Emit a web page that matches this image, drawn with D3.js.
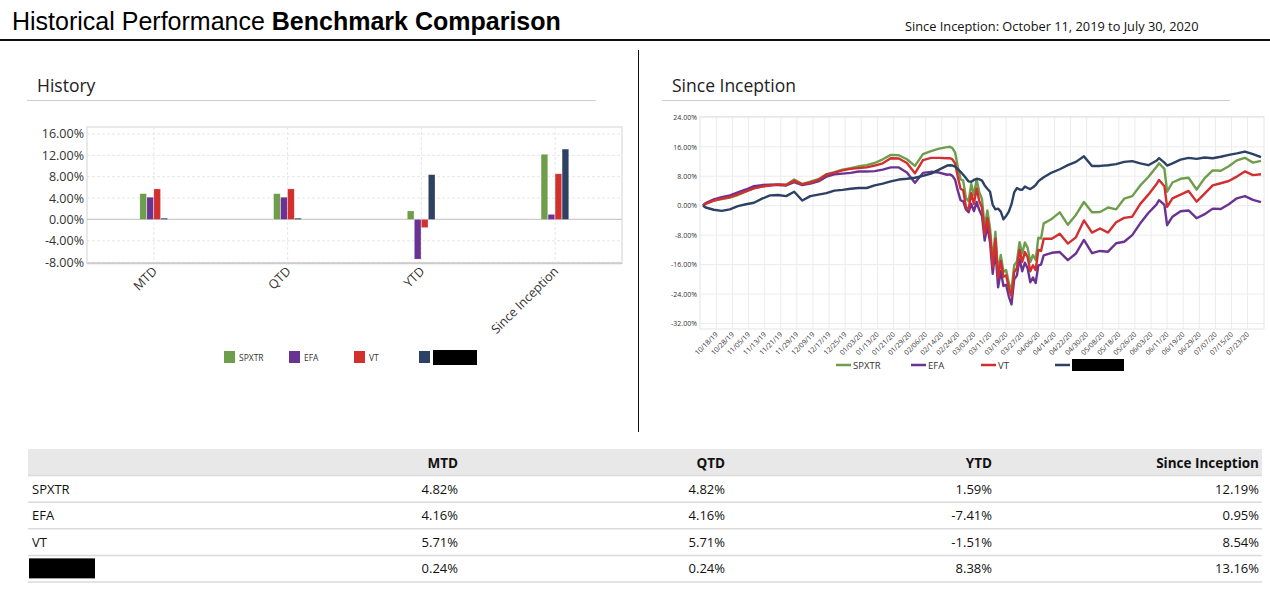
<!DOCTYPE html>
<html>
<head>
<meta charset="utf-8">
<title>Historical Performance Benchmark Comparison</title>
<script src="https://cdn.jsdelivr.net/npm/d3@7"></script>
<style>
  html, body { margin: 0; padding: 0; background: #fff; }
  svg { display: block; }
  text { font-family: "Open Sans", "Noto Sans", sans-serif; fill: #222; }
</style>
</head>
<body>
<svg id="page" width="1270" height="591"></svg>
<script>
// ---- data ----
const periods = ["MTD", "QTD", "YTD", "Since Inception"];
const seriesNames = ["SPXTR", "EFA", "VT", null]; // last name is redacted in the source
const seriesColors = ["#6e9d4b", "#6b3391", "#d22f2f", "#2c4163"];

const spxtrPeriod = [4.82, 4.82, 1.59, 12.19];
const efaPeriod = [4.16, 4.16, -7.41, 0.95];
const vtPeriod = [5.71, 5.71, -1.51, 8.54];
const portPeriod = [0.24, 0.24, 8.38, 13.16];

const barTicks = [-8, -4, 0, 4, 8, 12, 16];
const lineTicks = [-32, -24, -16, -8, 0, 8, 16, 24];

// trading day since 10/11/19 (0) .. 07/30/20 (208)
const tradingDay = [
  0, 1, 4, 7, 10, 13, 16, 19, 22, 25, 28, 31, 34, 37, 40, 43, 46, 49, 52, 55, 58, 61, 64, 67, 70, 73, 76, 79, 82, 85, 88, 91,
  92, 93, 94, 95, 96, 97, 98, 99, 100, 101, 102, 103, 104, 105, 106, 107, 108, 109, 110, 111, 112, 113, 114, 115, 116, 117, 118, 119, 120, 121, 122, 123, 124, 125, 126,
  127, 130, 133, 136, 139, 142, 145, 148, 151, 154, 157, 160, 163, 166, 169, 170, 172, 173, 175, 178, 181, 184, 187, 190, 193, 196, 199, 202, 205, 208
];
const spxtrLine = [
  0, 0.6, 1.4, 1.8, 2.2, 2.9, 3.9, 4.8, 5.2, 5.6, 5.8, 5.7, 7.1, 5.9, 6.5, 7.2, 8.5, 9.1, 9.8, 10.2, 10.7, 11.0, 11.6, 12.6, 13.8, 13.7, 12.6, 10.8, 14.0, 14.8, 15.5, 15.9,
  16.0, 15.6, 14.4, 10.5, 7.2, 6.8, 2.1, 1.2, 5.9, 2.9, 7.2, 3.6, 1.8, -5.9, -1.3, -6.1, -15.0, -7.1, -18.3, -13.4, -17.9, -17.5, -21.0, -23.0, -16.2, -15.2, -9.9, -13.0, -10.0, -11.4, -15.3, -13.4, -14.7, -8.7, -8.9,
  -4.8, -3.6, -1.8, -5.2, -2.5, 1.0, -1.8, -1.7, -0.5, -1.0, 1.9, 2.6, 5.5, 7.8, 10.5, 11.5, 10.0, 3.8, 6.3, 7.3, 7.6, 4.4, 7.5, 9.6, 9.5, 10.7, 12.3, 13.0, 11.7, 12.19
];
const efaLine = [
  0, 0.7, 1.7, 2.3, 2.8, 3.6, 4.4, 5.3, 5.6, 5.7, 5.6, 5.5, 6.4, 5.6, 6.0, 6.6, 7.9, 8.5, 8.7, 8.9, 9.3, 9.3, 9.4, 9.8, 10.4, 10.4, 9.0, 6.2, 8.9, 9.2, 9.0, 8.4,
  8.5, 8.1, 7.0, 4.0, 1.5, 1.2, -1.0, -1.8, 0.5, -1.5, 1.0, -1.2, -2.8, -9.5, -5.5, -10.0, -18.5, -12.0, -22.2, -17.8, -21.8, -21.5, -24.7, -26.8, -20.0, -19.0, -14.5, -17.8, -15.5, -17.0, -20.8, -19.5, -21.0, -16.2, -16.0,
  -13.5, -12.8, -12.6, -14.8, -13.0, -9.3, -12.9, -12.3, -12.5, -10.2, -9.8, -8.0, -4.8, -2.0, 0.3, 1.5, 0.2, -5.3, -3.0, -1.5, -1.3, -3.4, -2.3, -0.8, -0.9, 0.4, 2.0, 2.6, 1.6, 0.95
];
const vtLine = [
  0, 0.5, 1.4, 1.9, 2.3, 3.1, 3.9, 4.7, 5.2, 5.5, 5.8, 5.6, 6.8, 5.8, 6.3, 7.0, 8.5, 9.0, 9.6, 10.0, 10.2, 10.4, 10.9, 11.5, 12.9, 12.8, 11.6, 8.8, 12.4, 13.0, 13.0, 12.9,
  12.9, 12.6, 11.4, 7.8, 4.6, 4.2, -0.3, -1.1, 3.4, 0.5, 4.7, 1.2, -0.5, -7.8, -3.4, -8.0, -16.6, -9.0, -19.7, -15.0, -19.3, -18.9, -22.3, -24.6, -18.0, -17.0, -12.0, -15.3, -12.6, -14.0, -17.8, -16.2, -17.5, -12.0, -12.3,
  -9.0, -9.0, -7.6, -10.3, -8.6, -4.0, -7.3, -6.2, -7.3, -4.5, -3.3, -3.0, 0.5, 3.0, 5.8, 7.0, 5.3, -0.3, 2.0, 3.0, 4.0, 1.1, 3.3, 5.5, 6.1, 6.7, 7.9, 9.3, 8.3, 8.54
];
const portLine = [
  0, -0.5, -1.1, -1.4, -1.0, -0.1, 0.4, 0.8, 1.9, 2.8, 2.9, 2.6, 3.8, 1.4, 2.6, 3.0, 3.4, 4.1, 4.3, 4.6, 4.8, 4.8, 5.5, 6.0, 6.6, 7.1, 7.3, 7.6, 8.1, 8.7, 9.8, 10.9,
  11.0, 10.9, 10.6, 9.9, 9.2, 8.4, 7.5, 6.6, 6.5, 7.0, 7.3, 7.2, 6.8, 5.5, 4.6, 3.8, 0.2, -1.0, -0.8, -1.6, -3.7, -2.8, -1.6, 0.4, 3.6, 4.8, 4.4, 4.3, 5.2, 4.8, 4.5, 5.0, 5.6, 6.6, 7.2,
  7.7, 9.0, 9.9, 11.0, 11.9, 13.4, 10.8, 10.8, 11.0, 11.3, 11.9, 12.1, 11.5, 11.0, 12.2, 12.9, 11.7, 10.9, 11.5, 12.5, 13.0, 12.7, 13.1, 12.9, 13.3, 13.8, 14.2, 14.7, 14.0, 13.16
];

// date labels, one every 6 trading days starting at day 5
const dateLabels = [
  "10/18/19", "10/28/19", "11/05/19", "11/13/19", "11/21/19", "11/29/19", "12/09/19", "12/17/19", "12/25/19",
  "01/03/20", "01/13/20", "01/21/20", "01/29/20", "02/06/20", "02/14/20", "02/24/20", "03/03/20", "03/11/20",
  "03/19/20", "03/27/20", "04/06/20", "04/14/20", "04/22/20", "04/30/20", "05/08/20", "05/18/20", "05/26/20",
  "06/03/20", "06/11/20", "06/19/20", "06/29/20", "07/07/20", "07/15/20", "07/23/20"
];
const dateLabelDay = dateLabels.map((d, i) => 5 + 6 * i);

const periodValues = [spxtrPeriod, efaPeriod, vtPeriod, portPeriod];
const lineValues = [spxtrLine, efaLine, vtLine, portLine];
// plain hyphen for negatives, like the source
const pct = d => d.toFixed(2) + "%";

const svg = d3.select("#page");

// ---- page header ----
const title = svg.append("text")
  .attr("x", 12).attr("y", 30)
  .style("font-family", '"Liberation Sans", Arial, sans-serif')
  .style("font-size", "25px")
  .style("fill", "#000");
title.append("tspan").text("Historical Performance ");
title.append("tspan").style("font-weight", "bold").text("Benchmark Comparison");

svg.append("text")
  .attr("x", 905).attr("y", 31)
  .style("font-size", "12.8px").style("fill", "#111")
  .text("Since Inception: October 11, 2019 to July 30, 2020");

svg.append("line")
  .attr("x1", 0).attr("x2", 1270).attr("y1", 40).attr("y2", 40)
  .attr("stroke", "#111").attr("stroke-width", 2);

svg.append("line")
  .attr("x1", 638.5).attr("x2", 638.5).attr("y1", 50).attr("y2", 432)
  .attr("stroke", "#111").attr("stroke-width", 1);

// section headings
[["History", 37, 27, 596], ["Since Inception", 672, 662, 1230]].forEach(([label, tx, x1, x2]) => {
  svg.append("text").attr("x", tx).attr("y", 92)
    .style("font-size", "17.5px").style("fill", "#222").text(label);
  svg.append("line").attr("x1", x1).attr("x2", x2).attr("y1", 100.5).attr("y2", 100.5)
    .attr("stroke", "#cfcfcf").attr("stroke-width", 1);
});

// ---- History bar chart ----
const barX = d3.scaleBand().domain(periods).range([87, 622]);
const barY = d3.scaleLinear().domain([-8.2, 17.3]).range([263.3, 127]);
const barInner = d3.scaleBand().domain(d3.range(4)).range([-14, 14]);

const bars = svg.append("g");

bars.append("rect")
  .attr("x", 87).attr("y", 127)
  .attr("width", 535).attr("height", barY(-8.2) - 127)
  .attr("fill", "none").attr("stroke", "#e2e2e2").attr("stroke-width", 1.5);

bars.append("g").selectAll("line")
  .data(barTicks.filter(t => t !== 0))
  .join("line")
  .attr("x1", 87).attr("x2", 622)
  .attr("y1", d => barY(d)).attr("y2", d => barY(d))
  .attr("stroke", "#e6e6e6").attr("stroke-dasharray", "3,2");

bars.append("g").selectAll("line")
  .data(periods)
  .join("line")
  .attr("x1", d => barX(d) + barX.bandwidth() / 2).attr("x2", d => barX(d) + barX.bandwidth() / 2)
  .attr("y1", 127).attr("y2", barY(-8.2))
  .attr("stroke", "#e6e6e6").attr("stroke-dasharray", "3,2");

bars.append("line")
  .attr("x1", 87).attr("x2", 622).attr("y1", barY(0)).attr("y2", barY(0))
  .attr("stroke", "#cccccc").attr("stroke-width", 1.2);

bars.append("line")
  .attr("x1", 87).attr("x2", 622).attr("y1", barY(-8.2)).attr("y2", barY(-8.2))
  .attr("stroke", "#cccccc").attr("stroke-width", 2);

const barAxis = bars.append("g")
  .attr("transform", "translate(87,0)")
  .call(d3.axisLeft(barY).tickValues(barTicks).tickFormat(pct).tickSize(0).tickPadding(3));
barAxis.select(".domain").remove();
barAxis.selectAll("text")
  .style("font-family", '"Open Sans", sans-serif')
  .style("font-size", "12.5px").style("fill", "#333");

const groups = bars.append("g").selectAll("g")
  .data(periodValues)
  .join("g")
  .attr("fill", (d, i) => seriesColors[i]);

groups.selectAll("rect")
  .data((vals, j) => vals.map((v, k) => ({ v, k, j })))
  .join("rect")
  .attr("x", d => barX(periods[d.k]) + barX.bandwidth() / 2 + barInner(d.j))
  .attr("width", barInner.bandwidth() - 0.4)
  .attr("y", d => barY(Math.max(0, d.v)))
  .attr("height", d => Math.abs(barY(d.v) - barY(0)))
  .attr("stroke", "rgba(255,255,255,0.35)").attr("stroke-width", 0.6);

bars.append("g").selectAll("text")
  .data(periods)
  .join("text")
  .attr("transform", d => `translate(${barX(d) + barX.bandwidth() / 2 + 4},${272}) rotate(-45)`)
  .attr("text-anchor", "end")
  .style("font-size", "12.5px").style("fill", "#333")
  .text(d => d);

// bar legend
const barLegend = bars.append("g").selectAll("g")
  .data(seriesNames)
  .join("g")
  .attr("transform", (d, i) => `translate(${224 + 65 * i},351)`);
barLegend.append("rect")
  .attr("width", 11).attr("height", 12)
  .attr("fill", (d, i) => seriesColors[i]);
barLegend.filter(d => d !== null).append("text")
  .attr("x", 15).attr("y", 9.5)
  .style("font-size", "8.5px").style("fill", "#333")
  .text(d => d);
barLegend.filter(d => d === null).append("rect")
  .attr("x", 14).attr("y", -1).attr("width", 44).attr("height", 15).attr("fill", "#000");

// ---- Since Inception line chart ----
const lineX = d3.scaleLinear().domain([0, 208]).range([703, 1261]);
const lineY = d3.scaleLinear().domain([-33.5, 24.2]).range([329, 116.6]);

const lc = svg.append("g");

lc.append("g").selectAll("line")
  .data(lineTicks)
  .join("line")
  .attr("x1", 700).attr("x2", 1264)
  .attr("y1", d => lineY(d)).attr("y2", d => lineY(d))
  .attr("stroke", "#ececec").attr("stroke-width", 1);

lc.append("g").selectAll("line")
  .data(dateLabelDay)
  .join("line")
  .attr("x1", d => lineX(d)).attr("x2", d => lineX(d))
  .attr("y1", 116.6).attr("y2", 329)
  .attr("stroke", "#ececec").attr("stroke-width", 1);

lc.append("rect")
  .attr("x", 700).attr("y", 116.6).attr("width", 564).attr("height", 329 - 116.6)
  .attr("fill", "none").attr("stroke", "#e4e4e4").attr("stroke-width", 1);

const lineAxisY = lc.append("g")
  .attr("transform", "translate(700,0)")
  .call(d3.axisLeft(lineY).tickValues(lineTicks).tickFormat(pct).tickSize(0).tickPadding(3));
lineAxisY.select(".domain").remove();
lineAxisY.selectAll("text")
  .style("font-family", '"Open Sans", sans-serif')
  .style("font-size", "7px").style("fill", "#333");

lc.append("g").selectAll("text")
  .data(dateLabels)
  .join("text")
  .attr("transform", (d, i) => `translate(${lineX(dateLabelDay[i]) + 2},${335}) rotate(-45)`)
  .attr("text-anchor", "end")
  .style("font-size", "7px").style("fill", "#333")
  .text(d => d);

const line = d3.line()
  .x((d, i) => lineX(tradingDay[i]))
  .y(d => lineY(d));

lc.append("g").selectAll("path")
  .data(lineValues)
  .join("path")
  .attr("d", d => line(d))
  .attr("fill", "none")
  .attr("stroke", (d, i) => seriesColors[i])
  .attr("stroke-width", 2.4)
  .attr("stroke-linejoin", "round");

// line legend
const lineLegendX = [836, 911, 981, 1055];
const lineLegend = lc.append("g").selectAll("g")
  .data(seriesNames)
  .join("g")
  .attr("transform", (d, i) => `translate(${lineLegendX[i]},365)`);
lineLegend.append("line")
  .attr("x1", 0).attr("x2", 15).attr("y1", 0).attr("y2", 0)
  .attr("stroke", (d, i) => seriesColors[i]).attr("stroke-width", 2.5);
lineLegend.filter(d => d !== null).append("text")
  .attr("x", 17).attr("y", 3.5)
  .style("font-size", "9.5px").style("fill", "#333")
  .text(d => d);
lineLegend.filter(d => d === null).append("rect")
  .attr("x", 17).attr("y", -6).attr("width", 52).attr("height", 12).attr("fill", "#000");

// ---- table ----
const colRight = d3.scaleLinear().domain([0, periods.length - 1]).range([458, 1259]);
const rowY = d3.scaleBand().domain(d3.range(seriesNames.length)).range([475.5, 582]);
const table = svg.append("g");

table.append("rect")
  .attr("x", 28).attr("y", 449).attr("width", 1234).attr("height", 26.5)
  .attr("fill", "#e8e8e8");

table.append("g").selectAll("text")
  .data(periods)
  .join("text")
  .attr("x", (d, i) => colRight(i)).attr("y", 467.5)
  .attr("text-anchor", "end")
  .style("font-size", "13.5px").style("font-weight", "bold").style("fill", "#111")
  .text(d => d);

table.append("g").selectAll("line")
  .data([-1].concat(d3.range(seriesNames.length)))
  .join("line")
  .attr("x1", 28).attr("x2", 1262)
  .attr("y1", d => d < 0 ? 475.5 : rowY(d) + rowY.bandwidth())
  .attr("y2", d => d < 0 ? 475.5 : rowY(d) + rowY.bandwidth())
  .attr("stroke", "#dadada").attr("stroke-width", 1.5);

const rows = table.append("g").selectAll("g")
  .data(seriesNames)
  .join("g")
  .attr("transform", (d, i) => `translate(0,${rowY(i)})`);

rows.filter(d => d !== null).append("text")
  .attr("x", 32).attr("y", 18)
  .style("font-size", "13px").style("fill", "#111")
  .text(d => d);
rows.filter(d => d === null).append("rect")
  .attr("x", 29).attr("y", 3).attr("width", 66).attr("height", 20).attr("fill", "#000");

rows.selectAll("text.val")
  .data((d, i) => periodValues[i])
  .join("text")
  .attr("class", "val")
  .attr("x", (d, k) => colRight(k)).attr("y", 18)
  .attr("text-anchor", "end")
  .style("font-size", "13px").style("fill", "#111")
  .text(pct);
</script>
</body>
</html>
